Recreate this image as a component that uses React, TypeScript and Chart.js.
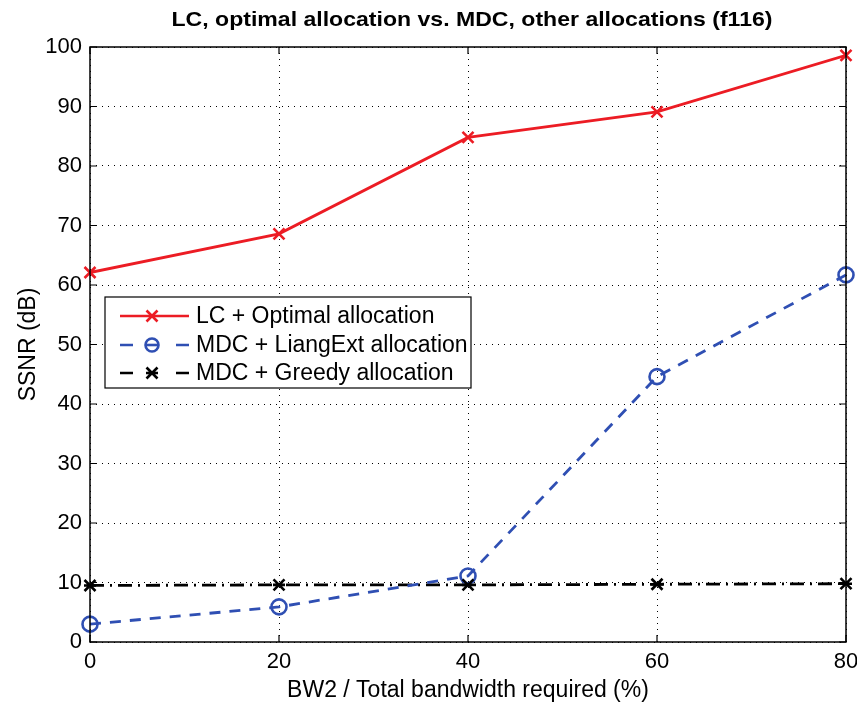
import React, { useEffect, useRef } from "react";
import { Chart, registerables } from "chart.js";

Chart.register(...registerables);

// Bandwidth share (%) on the x axis
const bwShare = [0, 20, 40, 60, 80];
// SSNR in dB for each scheme
const lcOptimal = [62.1, 68.6, 84.8, 89.1, 98.6];
const mdcLiangExt = [3.0, 5.9, 11.1, 44.6, 61.7];
const mdcGreedy = [9.5, 9.6, 9.6, 9.7, 9.8];

const xTicks = [0, 20, 40, 60, 80];
const yTicks = [0, 10, 20, 30, 40, 50, 60, 70, 80, 90, 100];

const titleText = "LC, optimal allocation vs. MDC, other allocations (f116)";
const xTitle = "BW2 / Total bandwidth required (%)";
const yTitle = "SSNR (dB)";
const seriesNames = [
  "LC + Optimal allocation",
  "MDC + LiangExt allocation",
  "MDC + Greedy allocation",
];

const RED = "#ec1c24";
const BLUE = "#2f4fb3";
const BLACK = "#000000";
const FONT = "'Liberation Sans', Arial, Helvetica, sans-serif";

const toPoints = (ys: number[]) => bwShare.map((x, i) => ({ x, y: ys[i] }));

function drawMarker(
  ctx: CanvasRenderingContext2D,
  kind: string,
  x: number,
  y: number,
  color: string,
  small = false
) {
  ctx.save();
  ctx.strokeStyle = color;
  ctx.setLineDash([]);
  ctx.lineCap = "butt";
  if (kind === "x") {
    const r = 5.5;
    ctx.lineWidth = 2.6;
    ctx.beginPath();
    ctx.moveTo(x - r, y - r);
    ctx.lineTo(x + r, y + r);
    ctx.moveTo(x - r, y + r);
    ctx.lineTo(x + r, y - r);
    ctx.stroke();
  } else if (kind === "o") {
    ctx.lineWidth = 2.6;
    ctx.beginPath();
    ctx.arc(x, y, small ? 6.5 : 7.5, 0, Math.PI * 2);
    ctx.stroke();
    if (small) {
      ctx.beginPath();
      ctx.moveTo(x - 6.5, y);
      ctx.lineTo(x + 6.5, y);
      ctx.stroke();
    }
  } else {
    const r = 5.5;
    ctx.lineWidth = 2.6;
    ctx.beginPath();
    ctx.moveTo(x - r, y - r);
    ctx.lineTo(x + r, y + r);
    ctx.moveTo(x - r, y + r);
    ctx.lineTo(x + r, y - r);
    ctx.moveTo(x - r - 0.5, y);
    ctx.lineTo(x + r + 0.5, y);
    ctx.stroke();
  }
  ctx.restore();
}

// draw text squeezed/stretched horizontally to a given width
function fitText(ctx: CanvasRenderingContext2D, text: string, cx: number, y: number, width: number) {
  const w = ctx.measureText(text).width;
  ctx.save();
  ctx.translate(cx, y);
  ctx.scale(width / w, 1);
  ctx.textAlign = "center";
  ctx.fillText(text, 0, 0);
  ctx.restore();
}

const frame = {
  id: "frame",
  afterDatasetsDraw(chart: any) {
    const { ctx } = chart;
    const xs = chart.scales.x;
    const ys = chart.scales.y;
    const kinds = ["x", "o", "*"];
    const colors = [RED, BLUE, BLACK];
    chart.data.datasets.forEach((ds: any, i: number) => {
      ds.data.forEach((p: any) => {
        drawMarker(ctx, kinds[i], xs.getPixelForValue(p.x), ys.getPixelForValue(p.y), colors[i]);
      });
    });
  },
  afterDraw(chart: any) {
    const { ctx, chartArea } = chart;
    const { left, right, top, bottom } = chartArea;
    const xs = chart.scales.x;
    const ys = chart.scales.y;
    ctx.save();

    // box
    ctx.strokeStyle = "#000";
    ctx.lineWidth = 1.5;
    ctx.setLineDash([]);
    ctx.strokeRect(left, top, right - left, bottom - top);

    // inward tick marks on all four sides
    const t = 7;
    ctx.lineWidth = 1.2;
    ctx.beginPath();
    xTicks.forEach((v) => {
      const px = xs.getPixelForValue(v);
      ctx.moveTo(px, bottom);
      ctx.lineTo(px, bottom - t);
      ctx.moveTo(px, top);
      ctx.lineTo(px, top + t);
    });
    yTicks.forEach((v) => {
      const py = ys.getPixelForValue(v);
      ctx.moveTo(left, py);
      ctx.lineTo(left + t, py);
      ctx.moveTo(right, py);
      ctx.lineTo(right - t, py);
    });
    ctx.stroke();

    // title
    ctx.fillStyle = "#000";
    ctx.textBaseline = "alphabetic";
    ctx.font = `bold 20.5px ${FONT}`;
    fitText(ctx, titleText, 472, 26, 601);

    // axis titles
    ctx.textAlign = "center";
    ctx.font = `23px ${FONT}`;
    ctx.fillText(xTitle, (left + right) / 2, 697);
    ctx.save();
    ctx.translate(35, (top + bottom) / 2);
    ctx.rotate(-Math.PI / 2);
    ctx.fillText(yTitle, 0, 0);
    ctx.restore();

    // legend
    const lx = 105, ly = 297, lw = 366, lh = 91;
    ctx.fillStyle = "#fff";
    ctx.fillRect(lx, ly, lw, lh);
    ctx.strokeStyle = "#000";
    ctx.lineWidth = 1.2;
    ctx.strokeRect(lx, ly, lw, lh);
    const rows = [316, 345, 373];
    const colors = [RED, BLUE, BLACK];
    const kinds = ["x", "o", "*"];
    rows.forEach((ry, i) => {
      ctx.strokeStyle = colors[i];
      ctx.lineWidth = 2.6;
      ctx.setLineDash([]);
      ctx.beginPath();
      if (i === 0) {
        ctx.moveTo(120, ry);
        ctx.lineTo(189, ry);
      } else {
        ctx.moveTo(120, ry);
        ctx.lineTo(133, ry);
        ctx.moveTo(176, ry);
        ctx.lineTo(189, ry);
      }
      ctx.stroke();
      drawMarker(ctx, kinds[i], 152, ry, colors[i], true);
      ctx.fillStyle = "#000";
      ctx.textAlign = "left";
      ctx.textBaseline = "middle";
      ctx.font = `23px ${FONT}`;
      ctx.fillText(seriesNames[i], 196, ry + 1);
    });
    ctx.restore();
  },
};

export default function App() {
  const ref = useRef<HTMLCanvasElement | null>(null);

  useEffect(() => {
    if (!ref.current) return;
    const chart = new Chart(ref.current, {
      type: "line",
      data: {
        datasets: [
          {
            label: seriesNames[0],
            data: toPoints(lcOptimal),
            borderColor: RED,
            borderWidth: 2.8,
            pointRadius: 0,
            fill: false,
          },
          {
            label: seriesNames[1],
            data: toPoints(mdcLiangExt),
            borderColor: BLUE,
            borderWidth: 2.8,
            borderDash: [11, 9],
            pointRadius: 0,
            fill: false,
          },
          {
            label: seriesNames[2],
            data: toPoints(mdcGreedy),
            borderColor: BLACK,
            borderWidth: 2.8,
            borderDash: [14, 6, 2, 6],
            pointRadius: 0,
            fill: false,
          },
        ],
      },
      plugins: [frame],
      options: {
        animation: false,
        responsive: false,
        maintainAspectRatio: false,
        layout: { padding: { left: 0, right: 11, top: 47, bottom: 0 } },
        plugins: {
          legend: { display: false },
          title: { display: false },
          tooltip: { enabled: false },
        },
        scales: {
          x: {
            type: "linear",
            min: 0,
            max: 80,
            afterBuildTicks: (s: any) => {
              s.ticks = xTicks.map((v) => ({ value: v }));
            },
            afterFit: (s: any) => {
              s.height = 61;
              s.paddingLeft = 0;
              s.paddingRight = 0;
            },
            grid: { color: "#000", lineWidth: 1, drawTicks: false },
            border: { display: false, dash: [1, 5] },
            ticks: {
              color: "#000",
              padding: 7,
              font: { family: FONT, size: 22 },
            },
          },
          y: {
            type: "linear",
            min: 0,
            max: 100,
            afterBuildTicks: (s: any) => {
              s.ticks = yTicks.map((v) => ({ value: v }));
            },
            afterFit: (s: any) => {
              s.width = 90;
              s.paddingTop = 0;
              s.paddingBottom = 0;
            },
            grid: { color: "#000", lineWidth: 1, drawTicks: false },
            border: { display: false, dash: [1, 5] },
            ticks: {
              color: "#000",
              padding: 8,
              font: { family: FONT, size: 22 },
            },
          },
        },
      },
    });
    return () => chart.destroy();
  }, []);

  return (
    <div style={{ position: "absolute", left: 0, top: 0, width: 857, height: 703, background: "#fff" }}>
      <canvas ref={ref} width={857} height={703} style={{ display: "block" }} />
    </div>
  );
}
